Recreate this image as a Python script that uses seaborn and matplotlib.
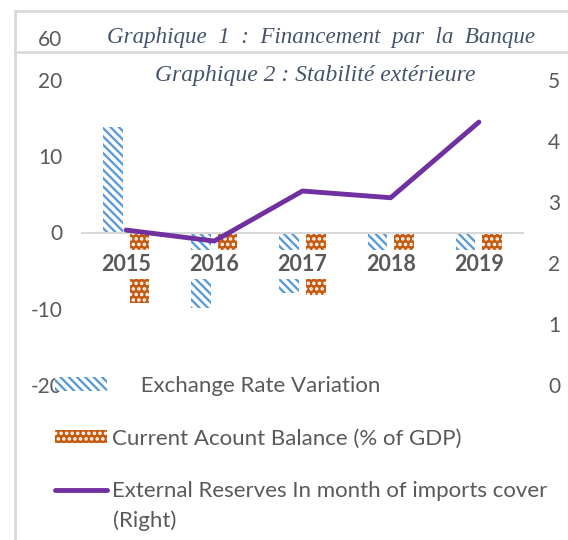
import matplotlib
matplotlib.use("Agg")
import matplotlib.pyplot as plt
from matplotlib.lines import Line2D
import seaborn as sns
import pandas as pd

# ---- data ----
years = ["2015", "2016", "2017", "2018", "2019"]
exchange_rate = [13.9, -9.9, -7.9, -3.5, -3.0]
current_account = [-9.2, -4.0, -8.2, -4.0, -3.5]
reserves = [2.54, 2.36, 3.18, 3.07, 4.31]
left_ticks = [-20, -10, 0, 10, 20]
right_ticks = [0, 1, 2, 3, 4, 5]
series_names = ["Exchange Rate Variation", "Current Acount Balance (% of GDP)"]
line_name = "External Reserves In month of imports cover"
line_name_2 = "(Right)"
title_1 = "Graphique  1  :  Financement  par  la  Banque"
title_2 = "Graphique 2 : Stabilité extérieure"
extra_tick = "60"

BLUE = "#5B9BD5"
ORANGE = "#C55A11"
PURPLE = "#7030A0"
GREY = "#595959"
TITLE_C = "#44546A"
LINE_C = "#D9D9D9"

sns.set_theme(style="white")
plt.rcParams["font.family"] = ["Lato", "DejaVu Sans"]
plt.rcParams["hatch.linewidth"] = 1.7
plt.rcParams["axes.unicode_minus"] = False

df = pd.DataFrame({
    "year": years * 2,
    "value": exchange_rate + current_account,
    "series": [series_names[0]] * len(years) + [series_names[1]] * len(years),
})

W, H = 568, 540
fig = plt.figure(figsize=(W / 100, H / 100), dpi=100)
ax = fig.add_axes([82 / W, 1 - 385 / H, 441 / W, 305 / H])

sns.barplot(data=df, x="year", y="value", hue="series", hue_order=series_names,
            palette=[BLUE, ORANGE], width=0.6, gap=0.26, ax=ax, legend=False,
            errorbar=None)

for p in ax.containers[0]:
    p.set_facecolor("white")
    p.set_edgecolor(BLUE)
    p.set_hatch("\\\\\\\\")
    p.set_linewidth(0)
for p in ax.containers[1]:
    p.set_facecolor(ORANGE)
    p.set_edgecolor("white")
    p.set_hatch("...")
    p.set_linewidth(0)

ax2 = ax.twinx()
sns.pointplot(x=years, y=reserves, ax=ax2, color=PURPLE, markers="",
              linewidth=3, errorbar=None)
for ln in ax2.lines:
    ln.set_solid_capstyle("round")
    ln.set_linewidth(3.5)

ax.set_xlim(-0.5, len(years) - 0.5)
ax.set_ylim(-20, 20)
ax.set_yticks(left_ticks)
ax2.set_ylim(0, 5)
ax2.set_yticks(right_ticks)
for a in (ax, ax2):
    a.set_xlabel("")
    a.set_ylabel("")
    for s in ("top", "right", "left"):
        a.spines[s].set_visible(False)
ax2.spines["bottom"].set_visible(False)
ax.spines["bottom"].set_position(("data", 0))
ax.spines["bottom"].set_color(LINE_C)
ax.spines["bottom"].set_linewidth(1.5)
ax.set_axisbelow(False)

ax.tick_params(axis="y", length=0, pad=14, labelsize=15, labelcolor=GREY)
ax2.tick_params(axis="y", length=0, pad=18, labelsize=15, labelcolor=GREY)
ax.tick_params(axis="x", length=0, pad=15.5, labelsize=15.5, labelcolor=GREY)
for t in ax.get_xticklabels():
    t.set_fontweight("bold")
    t.set_bbox(dict(facecolor="white", edgecolor="none", boxstyle="square,pad=0.2"))

# header texts
fig.text(50 / W, 1 - 40 / H, extra_tick, ha="center", va="center", fontsize=15, color=GREY)
fig.text(321 / W, 1 - 37 / H, title_1, ha="center", va="center", fontsize=16.6,
         color=TITLE_C, style="italic", family=["Liberation Serif", "DejaVu Serif"])
fig.text(315 / W, 1 - 75 / H, title_2, ha="center", va="center", fontsize=17,
         color=TITLE_C, style="italic", family=["Liberation Serif", "DejaVu Serif"])

# frame lines of the screenshot
fig.add_artist(Line2D([15 / W, 1], [1 - 11 / H] * 2, color=LINE_C, lw=2, transform=fig.transFigure))
fig.add_artist(Line2D([15 / W, 1], [1 - 52 / H] * 2, color=LINE_C, lw=2, transform=fig.transFigure))
fig.add_artist(Line2D([15 / W] * 2, [0, 1 - 11 / H], color=LINE_C, lw=2, transform=fig.transFigure))

handles = [ax.containers[0][0], ax.containers[1][0], ax2.lines[0]]
labels = ["     " + series_names[0], series_names[1], line_name]
fig.legend(handles, labels, loc="upper left", bbox_to_anchor=(55 / W, 1 - 376 / H),
           frameon=False, fontsize=16, labelcolor=GREY, borderpad=0, borderaxespad=0,
           handlelength=2.35, handleheight=0.55, handletextpad=0.22, labelspacing=1.46)
fig.text(113 / W, 1 - 521 / H, line_name_2, ha="left", va="center", fontsize=16, color=GREY)

fig.savefig("out.png", dpi=100)
